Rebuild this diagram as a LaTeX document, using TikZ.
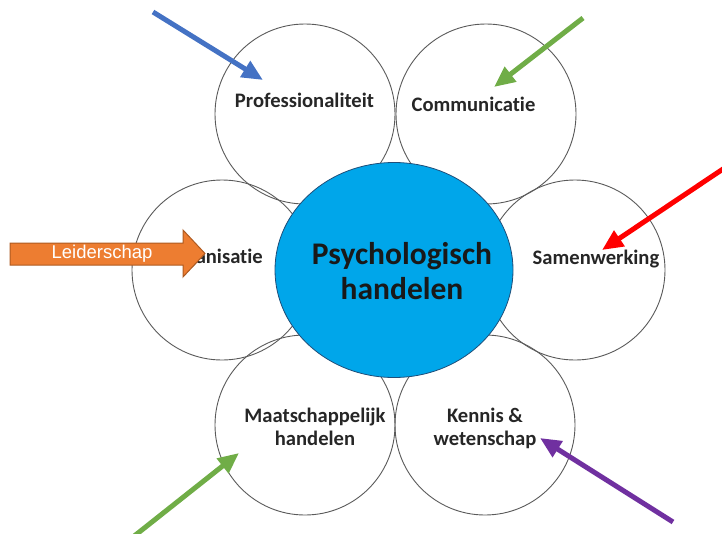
\documentclass[tikz,border=0pt]{standalone}
\usepackage{fontspec}
\setmainfont{Carlito}[RawFeature=-liga]
\newfontfamily\arialf{Liberation Sans}
\usetikzlibrary{arrows.meta,shapes.geometric}
\definecolor{ringgray}{HTML}{5A5A5A}
\definecolor{corefill}{RGB}{0,166,234}
\definecolor{coreline}{HTML}{1F4E79}
\definecolor{arblue}{HTML}{4472C4}
\definecolor{argreen}{HTML}{70AD47}
\definecolor{arred}{HTML}{FF0000}
\definecolor{arpurple}{HTML}{7030A0}
\definecolor{orfill}{HTML}{ED7D31}
\definecolor{orline}{HTML}{AE5A21}
\tikzset{
  ring/.style={circle, draw=ringgray, line width=0.9pt, minimum size=180pt, inner sep=0pt},
  core/.style={ellipse, draw=coreline, fill=corefill, line width=0.8pt, minimum width=238pt, minimum height=215pt, inner sep=0pt},
  lab/.style={font=\bfseries\fontsize{20.6}{23}\selectfont, align=center, inner sep=0pt, text=black!85},
  corelab/.style={font=\bfseries\fontsize{31.5}{35}\selectfont, align=center, inner sep=0pt, text=black!90},
  pointer/.style={line width=5pt, -{Triangle[length=21pt,width=18pt]}},
}
\begin{document}
\begin{tikzpicture}[x=1pt,y=-1pt]
\useasboundingbox (0,0) rectangle (722,533);
% outer circles
\node[ring] (cprof) at (305,114) {};
\node[ring] (ccomm) at (486,114) {};
\node[ring] (corg) at (222,270) {};
\node[ring] (csam) at (575,270) {};
\node[ring] (cmaat) at (305,425) {};
\node[ring] (cken) at (485,425) {};
% core
\node[core] (core) at (394,270) {};
\node[corelab] (tcore) at (402,271) {Psychologisch\\handelen};
% labels
\node[lab, anchor=base] (tprof) at (304.5,107) {Professionaliteit};
\node[lab, anchor=base] (tcomm) at (473.5,111) {Communicatie};
\node[lab, anchor=base] (tsam) at (596,264) {Samenwerking};
\node[lab, anchor=base east] (torg) at (263,263) {Organisatie};
\node[lab] (tmaat) at (315,427) {Maatschappelijk\\handelen};
\node[lab] (tken) at (485,428) {Kennis \&\\wetenschap};
% arrows
\coordinate (sblue) at (153,12);   \coordinate (eblue) at (263,80);
\coordinate (sgreen) at (583,18);  \coordinate (egreen) at (494,87);
\coordinate (sred) at (726,167);   \coordinate (ered) at (602,250);
\coordinate (sgreen2) at (133,537); \coordinate (egreen2) at (239,453);
\coordinate (spurp) at (673,522);  \coordinate (epurp) at (540,438);
\draw[pointer, arblue] (sblue) -- (eblue);
\draw[pointer, argreen] (sgreen) -- (egreen);
\draw[pointer, arred] (sred) -- (ered);
\draw[pointer, argreen] (sgreen2) -- (egreen2);
\draw[pointer, arpurple] (spurp) -- (epurp);
% Leiderschap block arrow
\draw[fill=orfill, draw=orline, line width=1pt, line join=miter]
  (10,243) -- (183,243) -- (183,230) -- (205,253.5) -- (183,277) -- (183,265) -- (10,265) -- cycle;
\node[font=\arialf\fontsize{18.5}{20}\selectfont, text=white, inner sep=0pt] (tlead) at (102,254) {Leiderschap};
\end{tikzpicture}
\end{document}
